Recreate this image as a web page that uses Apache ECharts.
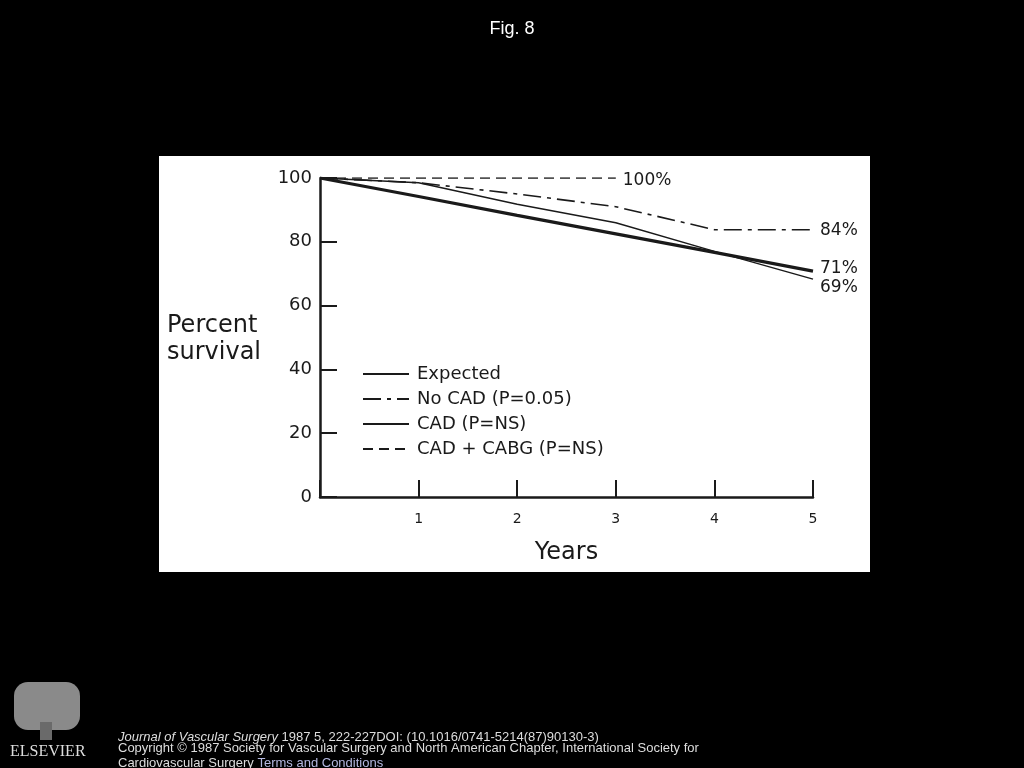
<!DOCTYPE html>
<html>
<head>
<meta charset="utf-8">
<script src="https://cdn.jsdelivr.net/npm/echarts@6/dist/echarts.min.js"></script>
<style>
  html, body { margin: 0; padding: 0; background: #000; }
  #panel { position: absolute; left: 159px; top: 156px; width: 711px; height: 416px; background: #fff; }
  #chart { position: absolute; left: 0; top: 0; width: 1024px; height: 768px; }
</style>
</head>
<body>
<div id="panel"></div>
<div id="chart"></div>
<script>
// data
var years = [0, 1, 2, 3, 4, 5];
var expected = [100, 94.2, 88.3, 82.5, 76.7, 70.8];
var noCad = [100, 98.5, 95, 91, 83.8, 83.8];
var cad = [100, 98.5, 91.8, 86, 77, 68.3];
var cadCabg = [100, 100, 100, 100];
var seriesNames = ['Expected', 'No CAD (P=0.05)', 'CAD (P=NS)', 'CAD + CABG (P=NS)'];
var endLabels = ['71%', '84%', '69%', '100%'];
var yTicks = [0, 20, 40, 60, 80, 100];
var xTicks = [1, 2, 3, 4, 5];

function pairs(vals) {
  return vals.map(function(v, i) { return [years[i], v]; });
}

var font = 'DejaVu Sans, Verdana, sans-serif';
var narrow = 'Liberation Sans Narrow, Arial Narrow, sans-serif';
var ink = '#1a1a1a';

function line(name, vals, width, type, label, off) {
  return {
    name: name,
    type: 'line',
    data: pairs(vals),
    symbol: 'none',
    silent: true,
    lineStyle: { color: ink, width: width, type: type },
    itemStyle: { color: ink },
    endLabel: {
      show: true,
      formatter: label,
      fontFamily: font,
      fontSize: 17,
      color: ink,
      distance: 7,
      offset: off
    }
  };
}

var chart = echarts.init(document.getElementById('chart'));
chart.setOption({
  backgroundColor: 'transparent',
  animation: false,
  title: {
    text: 'Fig. 8',
    left: 'center',
    top: 15,
    textStyle: { color: '#fff', fontFamily: 'Liberation Sans, Arial, sans-serif', fontSize: 18, fontWeight: 'normal' }
  },
  grid: { left: 320, top: 178, right: 211, bottom: 271 },
  legend: {
    orient: 'vertical',
    left: 362,
    top: 365,
    padding: 0,
    itemWidth: 46,
    itemHeight: 14,
    itemGap: 7,
    data: seriesNames,
    itemStyle: { color: 'rgba(0,0,0,0)', borderWidth: 0, opacity: 0 },
    textStyle: { fontFamily: font, fontSize: 18, color: ink, padding: [0, 0, 0, 3] }
  },
  xAxis: {
    type: 'value',
    min: 0,
    max: 5,
    interval: 1,
    name: 'Years',
    nameLocation: 'middle',
    nameGap: 44,
    nameTextStyle: { fontFamily: font, fontSize: 24, color: ink },
    axisLine: { lineStyle: { color: ink, width: 2.5 } },
    axisTick: { inside: true, length: 17, lineStyle: { color: ink, width: 2 } },
    axisLabel: {
      color: ink, fontFamily: font, fontSize: 14, margin: 15,
      formatter: function(v) { return xTicks.indexOf(v) >= 0 ? String(v) : ''; }
    },
    splitLine: { show: false }
  },
  yAxis: {
    type: 'value',
    min: 0,
    max: 100,
    interval: 20,
    axisLine: { show: true, lineStyle: { color: ink, width: 2.5 } },
    axisTick: { show: true, inside: true, length: 17, lineStyle: { color: ink, width: 2 } },
    axisLabel: {
      color: ink, fontFamily: font, fontSize: 18, margin: 8,
      formatter: function(v) { return yTicks.indexOf(v) >= 0 ? String(v) : ''; }
    },
    splitLine: { show: false }
  },
  series: [
    line(seriesNames[0], expected, 3.2, 'solid', endLabels[0], [0, -3]),
    line(seriesNames[1], noCad, 1.6, [18, 6, 4, 6], endLabels[1], [0, 1]),
    line(seriesNames[2], cad, 1.5, 'solid', endLabels[2], [0, 8]),
    line(seriesNames[3], cadCabg, 1.5, [10, 6], endLabels[3], [0, 3])
  ],
  graphic: [
    {
      type: 'text', left: 167, top: 312,
      style: { text: 'Percent\nsurvival', fontFamily: font, fontSize: 24, lineHeight: 27, fill: ink, textAlign: 'left' }
    },
    {
      type: 'group', left: 10, top: 682,
      children: [
        { type: 'rect', shape: { x: 4, y: 0, width: 66, height: 48, r: 14 }, style: { fill: '#8a8a8a' } },
        { type: 'rect', shape: { x: 30, y: 40, width: 12, height: 18 }, style: { fill: '#6a6a6a' } },
        { type: 'text', x: 0, y: 62, style: { text: 'ELSEVIER', fontFamily: 'Liberation Serif, serif', fontSize: 16, fill: '#ddd' } }
      ]
    },
    {
      type: 'text', left: 118, top: 731,
      style: {
        rich: {
          i: { fontStyle: 'italic', fontFamily: narrow, fontSize: 13, fill: '#ddd' },
          n: { fontFamily: narrow, fontSize: 13, fill: '#ddd' }
        },
        text: '{i|Journal of Vascular Surgery}{n| 1987 5, 222-227DOI: (10.1016/0741-5214(87)90130-3)}'
      }
    },
    {
      type: 'text', left: 118, top: 742,
      style: {
        text: 'Copyright \u00a9 1987 Society for Vascular Surgery and North American Chapter, International Society for',
        fontFamily: narrow, fontSize: 13, fill: '#ddd'
      }
    },
    {
      type: 'text', left: 118, top: 757,
      style: {
        rich: {
          n: { fontFamily: narrow, fontSize: 13, fill: '#ddd' },
          l: { fontFamily: narrow, fontSize: 13, fill: '#b4b8e0' }
        },
        text: '{n|Cardiovascular Surgery }{l|Terms and Conditions}'
      }
    }
  ]
});
</script>
</body>
</html>
